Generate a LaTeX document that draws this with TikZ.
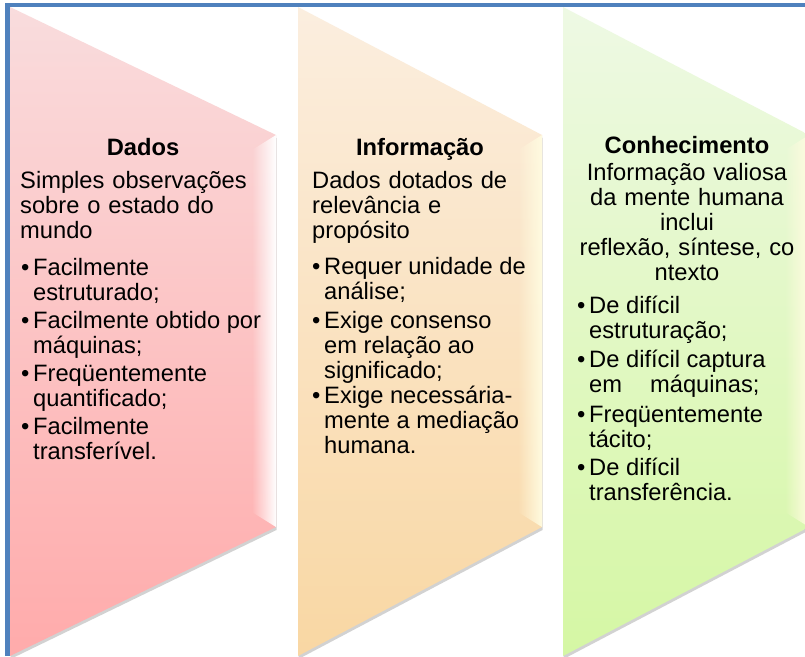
\documentclass[tikz,border=0pt]{standalone}
\usepackage{fontspec}
\setmainfont{Liberation Sans}
\usetikzlibrary{shadows,fadings}
\definecolor{frameblue}{HTML}{4F81BD}
\definecolor{redtop}{HTML}{F9DCDD}
\definecolor{redbot}{HTML}{FFABAB}
\definecolor{orgtop}{HTML}{FBEEDF}
\definecolor{orgbot}{HTML}{F9D7A3}
\definecolor{grntop}{HTML}{EEF9E4}
\definecolor{grnbot}{HTML}{D5F7A4}
\definecolor{hilite}{HTML}{FFFBE0}
\newcommand\bulpar[1]{\makebox[12pt][l]{•}\begin{minipage}[t]{270pt}\raggedright #1\end{minipage}}
\begin{document}
\begin{tikzpicture}[x=1pt,y=-1pt,
  panel/.style={drop shadow={shadow xshift=0.5pt,shadow yshift=-3pt,opacity=0.35}},
  ttl/.style={inner sep=0pt,anchor=base,font=\fontsize{23.7}{25}\selectfont\bfseries},
  txt/.style={inner sep=0pt,anchor=base west,text width=#1,align=left,font=\fontsize{23.7}{25}\selectfont},
  ctxt/.style={inner sep=0pt,anchor=base,text width=#1,align=center,font=\fontsize{23.7}{25}\selectfont},
  bul/.style={inner sep=0pt,anchor=base west,font=\fontsize{23.7}{25}\selectfont},
  shine/.style={fill=#1,path fading=west}]
\clip (0,0) rectangle (805,656);
\fill[white] (0,0) rectangle (805,656);
% panels
\path[panel,top color=redtop,bottom color=redbot] (10,7) -- (276,135) -- (276,527) -- (10,656) -- cycle;
\fill[shine=white] (276,135) -- (252,150) -- (252,512) -- (276,527) -- cycle;
\path[panel,top color=orgtop,bottom color=orgbot] (298,7) -- (542,135) -- (542,527) -- (298,656) -- cycle;
\fill[shine=hilite] (542,135) -- (518,150) -- (518,512) -- (542,527) -- cycle;
\path[panel,top color=grntop,bottom color=grnbot] (563,7) -- (809,135) -- (809,527) -- (563,656) -- cycle;
\fill[shine=hilite] (809,135) -- (785,150) -- (785,512) -- (809,527) -- cycle;
% frame
\fill[frameblue] (5,3) rectangle (805,7.3);
\fill[frameblue] (5,3) rectangle (9.5,656);
% panel 1
\node[ttl] (t1) at (143,155) {Dados};
\node[txt=250pt] (i1) at (20,188) {Simples observações\\sobre o estado do\\mundo};
\node[bul] (a1) at (21,275) {\bulpar{Facilmente\\estruturado;}};
\node[bul] (a2) at (21,328) {\bulpar{Facilmente obtido por\\máquinas;}};
\node[bul] (a3) at (21,381) {\bulpar{Freqüentemente\\quantificado;}};
\node[bul] (a4) at (21,434) {\bulpar{Facilmente\\transferível.}};
% panel 2
\node[ttl] (t2) at (420,155) {Informação};
\node[txt=230pt] (i2) at (312,188) {Dados dotados de\\relevância e\\propósito};
\node[bul] (b1) at (312,274) {\bulpar{Requer unidade de\\análise;}};
\node[bul] (b2) at (312,328) {\bulpar{Exige consenso\\em relação ao\\significado;}};
\node[bul] (b3) at (312,403) {\bulpar{Exige necessária-\\mente a mediação\\humana.}};
% panel 3
\node[ttl] (t3) at (687,153) {Conhecimento};
\node[ctxt=240pt] (i3) at (687,180) {Informação valiosa\\da mente humana\\inclui\\reflexão, síntese, co\\ntexto};
\node[bul] (c1) at (577,313) {\bulpar{De difícil\\estruturação;}};
\node[bul] (c2) at (577,367) {\bulpar{De difícil captura\\em\hspace{28pt}máquinas;}};
\node[bul] (c3) at (577,422) {\bulpar{Freqüentemente\\tácito;}};
\node[bul] (c4) at (577,475) {\bulpar{De difícil\\transferência.}};
\end{tikzpicture}
\end{document}
